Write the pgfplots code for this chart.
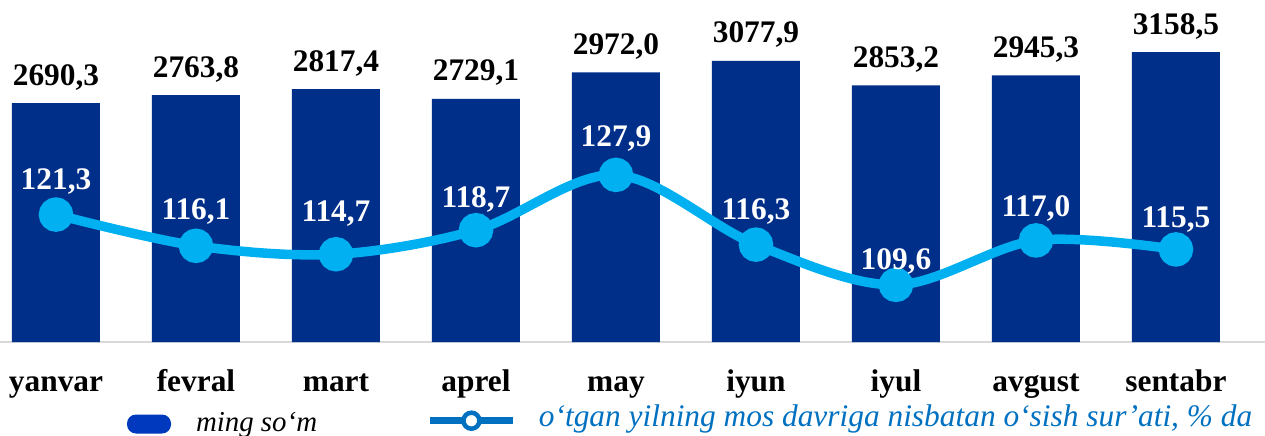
\documentclass[border=0pt]{standalone}
\usepackage{pgfplots}
\pgfplotsset{compat=1.18}
\usepackage{pgfplotstable}
\usepackage{fontspec}
\setmainfont{Liberation Serif}

\definecolor{barblue}{RGB}{0,47,137}
\definecolor{linecol}{RGB}{0,176,240}
\definecolor{legbar}{RGB}{0,56,190}
\definecolor{legline}{RGB}{0,112,192}

% monthly values, ming so'm
\pgfplotstableread{
x bar
0 2690.3
1 2763.8
2 2817.4
3 2729.1
4 2972.0
5 3077.9
6 2853.2
7 2945.3
8 3158.5
}\bardata

% growth rate, % (dy = label lift above the point)
\pgfplotstableread{
x rate dy
0 121.3 25
1 116.1 26
2 114.7 33
3 118.7 23
4 127.9 28
5 116.3 25
6 109.6 15
7 117.0 24
8 115.5 22
}\ratedata

\newcommand{\lblfont}{\fontsize{31.5}{36}\selectfont\bfseries}
\pgfkeys{/pgf/number format/.cd, fixed, fixed zerofill, precision=1, use comma, 1000 sep={}, assume math mode=true}

\begin{document}
\begin{tikzpicture}
\path[use as bounding box] (0,0) rectangle (1265bp,436bp);

\begin{axis}[
  at={(0bp,94bp)}, anchor=south west,
  scale only axis, width=1265bp, height=342bp,
  xmin=-0.4, xmax=8.636, ymin=496, ymax=3636.5,
  clip=false,
  axis y line=none, axis x line*=bottom,
  x axis line style={-, draw=black!15, line width=1.5bp},
  xtick={0,...,8}, major tick length=0,
  xticklabels={yanvar,fevral,mart,aprel,may,iyun,iyul,avgust,sentabr},
  xticklabel style={anchor=base, yshift=-49bp, inner sep=0pt, font=\lblfont},
  ybar, bar width=88bp,
  legend style={at={(0.1004,-0.2398)}, anchor=west, draw=none, fill=none,
    inner sep=0pt, outer sep=0pt, nodes={inner sep=0pt},
    /tikz/every odd column/.append style={column sep=25bp}},
  legend image code/.code={\fill[legbar, rounded corners=9bp] (0bp,-9.5bp) rectangle (44bp,9.5bp);},
]
\addplot[fill=barblue, draw=none,
  nodes near coords={\pgfmathprintnumber{\pgfplotspointmeta}},
  nodes near coords style={anchor=base, inner sep=0pt, yshift=18bp, black, font=\lblfont}]
  table[x=x, y=bar]{\bardata};
\addlegendentry{\raisebox{2bp}{\fontsize{29}{32}\selectfont\itshape ming so‘m}}
\end{axis}

\begin{axis}[
  at={(0bp,94bp)}, anchor=south west,
  scale only axis, width=1265bp, height=342bp,
  xmin=-0.4, xmax=8.636, ymin=100.1, ymax=157.0,
  clip=false, hide axis,
  legend style={at={(0.3375,-0.2223)}, anchor=west, draw=none, fill=none,
    inner sep=0pt, outer sep=0pt, nodes={inner sep=0pt},
    /tikz/every odd column/.append style={column sep=22bp}},
  legend image code/.code={
    \draw[legline, line width=7bp] (0bp,-4bp) -- (83bp,-4bp);
    \draw[legline, line width=4.5bp, fill=white] (41bp,-4bp) circle (8bp);},
]
\addplot[linecol, line width=9.5bp, smooth, tension=0.55,
  mark=*, mark size=12.5bp, mark options={fill=linecol, draw=none},
  visualization depends on={\thisrow{dy} \as \dy},
  nodes near coords={\pgfmathprintnumber{\pgfplotspointmeta}},
  nodes near coords style={anchor=base, inner sep=0pt, yshift=\dy*1bp, white, font=\lblfont}]
  table[x=x, y=rate]{\ratedata};
\addlegendentry{\fontsize{31.5}{34}\selectfont\itshape\color{legline}o‘tgan yilning mos davriga nisbatan o‘sish sur’ati, \% da}
\end{axis}
\end{tikzpicture}
\end{document}
